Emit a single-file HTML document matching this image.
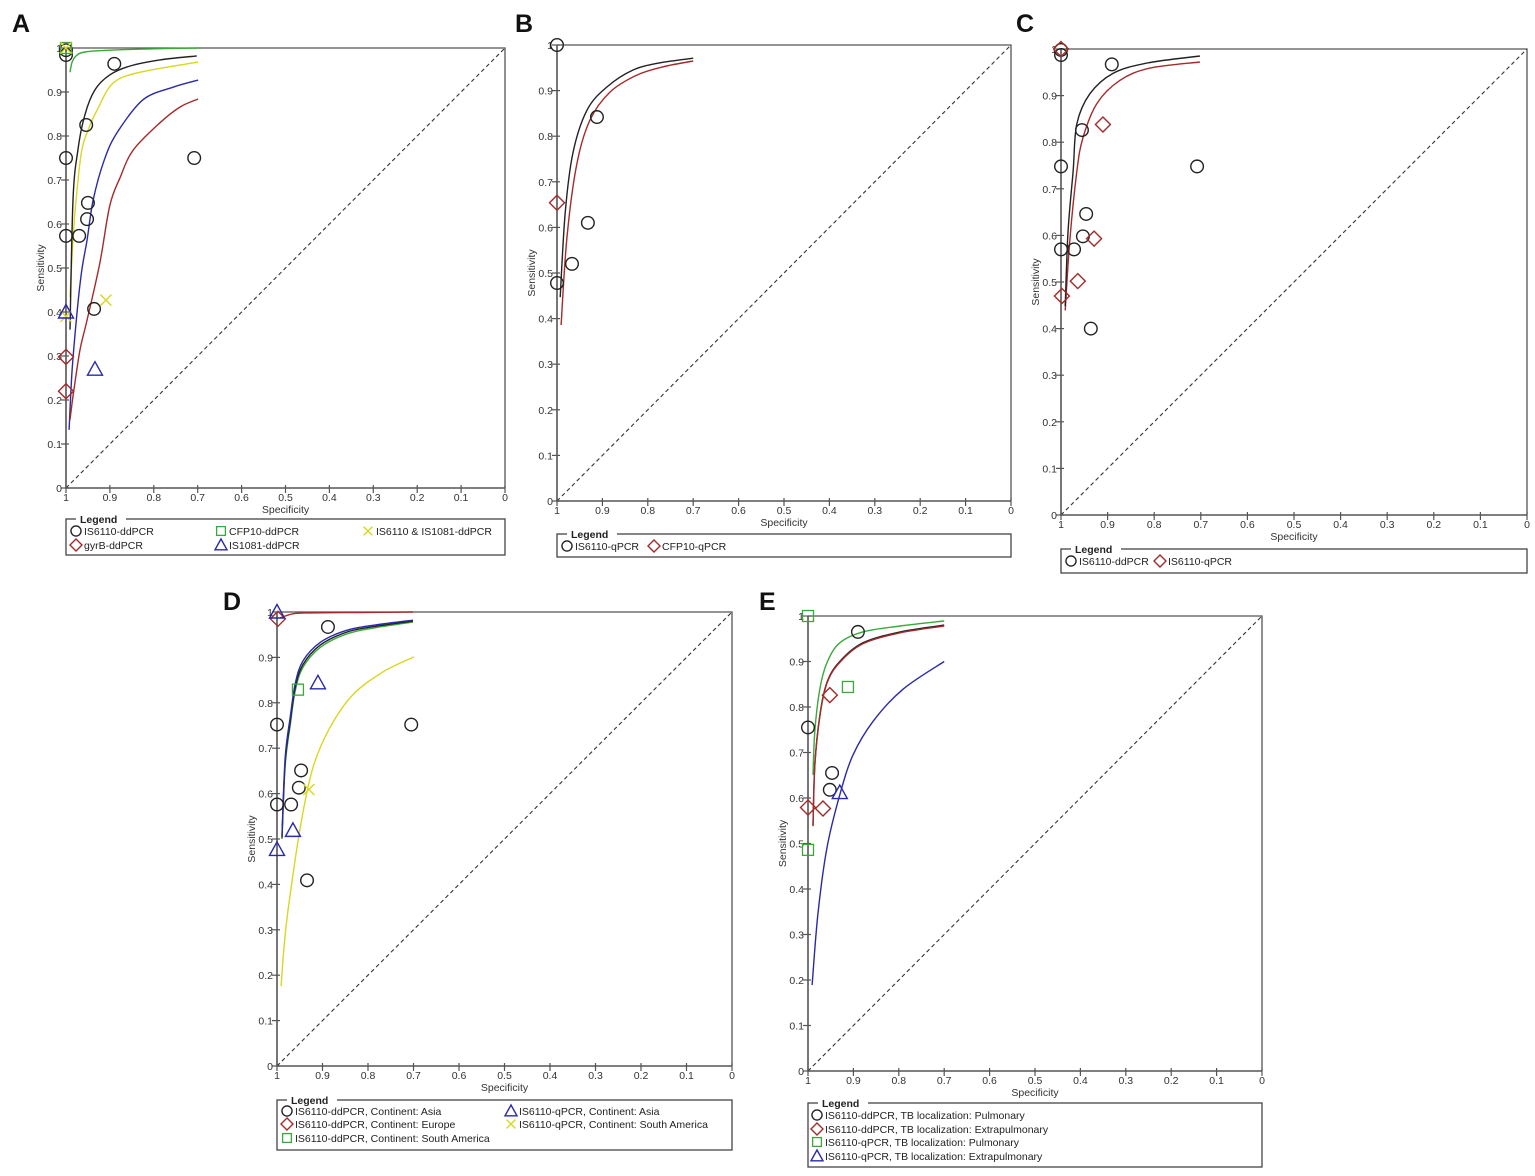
<!DOCTYPE html>
<html><head><meta charset="utf-8"><title>SROC curves</title>
<style>
html,body{margin:0;padding:0;background:#fff;}
svg{display:block;font-family:"Liberation Sans",Arial,sans-serif;}
</style></head>
<body>
<svg id="fig" width="1535" height="1176" viewBox="0 0 1535 1176" xmlns="http://www.w3.org/2000/svg"></svg>
<script>
// ---------- tick labels ----------
const tickValues = [0,0.1,0.2,0.3,0.4,0.5,0.6,0.7,0.8,0.9,1];
const tickLabels = ["0","0.1","0.2","0.3","0.4","0.5","0.6","0.7","0.8","0.9","1"];

// ---------- Panel A data ----------
const aIS6110Spec = [1,0.89,0.954,1,0.708,0.95,0.952,1,0.97,0.936,1];
const aIS6110Sens = [0.984,0.964,0.825,0.75,0.75,0.648,0.611,0.573,0.573,0.407,0.995];
const aGyrBSpec = [1,1];
const aGyrBSens = [0.298,0.22];
const aCFP10Spec = [1];
const aCFP10Sens = [1];
const aComboSpec = [1,1,0.909];
const aComboSens = [1,0.39,0.427];
const aIS1081Spec = [1,0.934];
const aIS1081Sens = [0.40,0.27];
const aCurveBlackSpec = [0.991,0.984,0.973,0.957,0.934,0.9,0.854,0.786,0.702];
const aCurveBlackSens = [0.36,0.655,0.768,0.848,0.905,0.939,0.959,0.973,0.982];
const aCurveYellowSpec = [0.991,0.984,0.977,0.964,0.945,0.929,0.893,0.831,0.699];
const aCurveYellowSens = [0.434,0.564,0.655,0.768,0.825,0.859,0.920,0.945,0.968];
const aCurveGreenSpec = [0.991,0.986,0.977,0.957,0.9,0.809,0.695];
const aCurveGreenSens = [0.945,0.968,0.982,0.991,0.995,0.998,1.0];
const aCurveBlueSpec = [0.993,0.986,0.975,0.964,0.952,0.938,0.913,0.884,0.825,0.756,0.699];
const aCurveBlueSens = [0.132,0.268,0.398,0.495,0.564,0.655,0.745,0.807,0.882,0.911,0.927];
const aCurveRedSpec = [0.991,0.982,0.968,0.952,0.923,0.9,0.877,0.847,0.786,0.740,0.699];
const aCurveRedSens = [0.155,0.223,0.314,0.382,0.511,0.643,0.705,0.768,0.830,0.866,0.884];

// ---------- Panel B data ----------
const bIS6110Spec = [1,0.912,0.932,0.967,1];
const bIS6110Sens = [1,0.842,0.610,0.520,0.478];
const bCFP10Spec = [1];
const bCFP10Sens = [0.654];
const bCurveBlackSpec = [0.993,0.982,0.965,0.934,0.890,0.833,0.773,0.700];
const bCurveBlackSens = [0.447,0.632,0.763,0.857,0.908,0.945,0.961,0.971];
const bCurveRedSpec = [0.991,0.978,0.956,0.927,0.883,0.824,0.767,0.700];
const bCurveRedSens = [0.386,0.579,0.741,0.836,0.897,0.934,0.952,0.965];

// ---------- Panel C data ----------
const cDdSpec = [1,1,0.891,0.955,1,0.708,0.946,0.953,1,0.972,0.936];
const cDdSens = [0.998,0.987,0.967,0.826,0.748,0.748,0.646,0.598,0.570,0.570,0.40];
const cQSpec = [1,0.910,0.929,0.964,0.998];
const cQSens = [1.0,0.838,0.593,0.502,0.470];
const cCurveBlackSpec = [0.991,0.985,0.974,0.966,0.938,0.888,0.815,0.702];
const cCurveBlackSens = [0.448,0.607,0.737,0.839,0.904,0.948,0.970,0.985];
const cCurveRedSpec = [0.991,0.981,0.966,0.953,0.923,0.873,0.809,0.702];
const cCurveRedSens = [0.439,0.591,0.737,0.809,0.883,0.933,0.959,0.972];

// ---------- Panel D data ----------
const dAsiaDdSpec = [0.888,1,0.705,0.947,0.952,1,0.969,0.934];
const dAsiaDdSens = [0.967,0.752,0.752,0.651,0.613,0.576,0.576,0.409];
const dEuropeSpec = [0.998];
const dEuropeSens = [0.985];
const dSouthAmDdSpec = [0.954];
const dSouthAmDdSens = [0.829];
const dAsiaQSpec = [1,0.910,0.965,1];
const dAsiaQSens = [1.0,0.844,0.519,0.477];
const dSouthAmQSpec = [0.930];
const dSouthAmQSens = [0.609];
const dCurveSpec = [0.989,0.982,0.971,0.960,0.943,0.905,0.846,0.780,0.701];
const dCurveBlackSens = [0.503,0.670,0.758,0.833,0.884,0.927,0.956,0.969,0.980];
const dCurveBlueSens = [0.51,0.68,0.768,0.842,0.892,0.933,0.960,0.972,0.982];
const dCurveGreenSens = [0.50,0.662,0.75,0.826,0.878,0.922,0.952,0.966,0.978];
const dCurveRedSpec = [0.993,0.965,0.927,0.818,0.701];
const dCurveRedSens = [0.987,0.996,0.998,0.999,1.0];
const dCurveYellowSpec = [0.991,0.985,0.976,0.949,0.921,0.884,0.833,0.767,0.699];
const dCurveYellowSens = [0.176,0.257,0.341,0.525,0.657,0.745,0.818,0.868,0.901];

// ---------- Panel E data ----------
const ePulmDdSpec = [0.890,1,0.947,0.952];
const ePulmDdSens = [0.965,0.755,0.655,0.618];
const eExtraDdSpec = [0.952,1,0.967];
const eExtraDdSens = [0.826,0.579,0.577];
const ePulmQSpec = [1,0.912,1];
const ePulmQSens = [1.0,0.844,0.486];
const eExtraQSpec = [0.930];
const eExtraQSens = [0.612];
const eCurveGreenSpec = [0.989,0.985,0.974,0.958,0.930,0.879,0.797,0.700];
const eCurveGreenSens = [0.651,0.746,0.839,0.898,0.941,0.965,0.978,0.989];
const eCurveDdSpec = [0.989,0.985,0.974,0.958,0.930,0.879,0.797,0.700];
const eCurveDdSens = [0.540,0.672,0.781,0.855,0.900,0.941,0.965,0.980];
const eCurveBlueSpec = [0.991,0.978,0.958,0.930,0.901,0.857,0.791,0.700];
const eCurveBlueSens = [0.189,0.347,0.492,0.607,0.694,0.768,0.839,0.900];

// ---------- helpers ----------
const NS = "http://www.w3.org/2000/svg";
const svg = document.getElementById("fig");
const BLACK="#222", RED="#a52a2a", GREEN="#3aa83a", YEL="#d8d820", BLUE="#2a2aa8", AXIS="#555";
function mk(tag, attrs, parent){
  const e=document.createElementNS(NS,tag);
  for(const k in attrs) e.setAttribute(k,attrs[k]);
  (parent||svg).appendChild(e); return e;
}
function makePanel(name,x0,y0,w,h){
  const g=mk("g",{});
  
  
  const P={g,x0,y0,w,h,
    sx:s=>x0+(1-s)*w, sy:v=>y0+(1-v)*h};
  const fr=mk("path",{d:`M${x0},${y0}H${x0+w}V${y0+h}`,fill:"none",stroke:AXIS,"stroke-width":1.3},g);
  
  
  const ax=mk("path",{d:`M${x0},${y0}V${y0+h}H${x0+w}`,fill:"none",stroke:AXIS,"stroke-width":1.6},g);
  
  
  const dg=mk("line",{x1:x0,y1:y0+h,x2:x0+w,y2:y0,stroke:"#333","stroke-width":1.1,"stroke-dasharray":"4,3"},g);
  
  
  tickValues.forEach((t,i)=>{
    const yy=P.sy(t), xx=P.sx(t);
    mk("line",{x1:x0-5,y1:yy,x2:x0+3,y2:yy,stroke:AXIS,"stroke-width":1.2},g);
    const yl=mk("text",{x:x0-4,y:yy+4,"font-size":10.5,"text-anchor":"end",fill:"#333"},g);
    yl.textContent=tickLabels[i];
    
    
    mk("line",{x1:xx,y1:y0+h-3,x2:xx,y2:y0+h+5,stroke:AXIS,"stroke-width":1.2},g);
    const xl=mk("text",{x:xx,y:y0+h+13,"font-size":10.5,"text-anchor":"middle",fill:"#333"},g);
    xl.textContent=tickLabels[i];
    
    
  });
  const xt=mk("text",{x:x0+w/2,y:y0+h+25,"font-size":10.5,"text-anchor":"middle",fill:"#333"},g);
  xt.textContent="Specificity";
  
  
  const yx=x0-22, yy=y0+h/2;
  const yt=mk("text",{x:yx,y:yy,"font-size":10.5,"text-anchor":"middle",fill:"#333",transform:`rotate(-90 ${yx} ${yy})`},g);
  yt.textContent="Sensitivity";
  
  
  return P;
}
function curve(P,spec,sens,color,name){
  const pts=spec.map((s,i)=>[P.sx(s),P.sy(sens[i])]);
  let d="M"+pts[0][0].toFixed(1)+","+pts[0][1].toFixed(1);
  for(let i=0;i<pts.length-1;i++){
    const p0=pts[Math.max(0,i-1)],p1=pts[i],p2=pts[i+1],p3=pts[Math.min(pts.length-1,i+2)];
    const c1=[p1[0]+(p2[0]-p0[0])/6,p1[1]+(p2[1]-p0[1])/6];
    const c2=[p2[0]-(p3[0]-p1[0])/6,p2[1]-(p3[1]-p1[1])/6];
    d+="C"+c1[0].toFixed(1)+","+c1[1].toFixed(1)+" "+c2[0].toFixed(1)+","+c2[1].toFixed(1)+" "+p2[0].toFixed(1)+","+p2[1].toFixed(1);
  }
  const p=mk("path",{d,fill:"none",stroke:color,"stroke-width":1.4},P.g);
  
  
}
function marker(g,type,cx,cy,color,sz){
  sz=sz||1; let e;
  if(type==="circle") e=mk("circle",{cx,cy,r:6.3*sz,fill:"none",stroke:color,"stroke-width":1.4},g);
  else if(type==="diamond"){const r=7.5*sz; e=mk("path",{d:`M${cx},${cy-r}L${cx+r},${cy}L${cx},${cy+r}L${cx-r},${cy}Z`,fill:"none",stroke:color,"stroke-width":1.4},g);}
  else if(type==="square"){const r=5.5*sz; e=mk("rect",{x:cx-r,y:cy-r,width:2*r,height:2*r,fill:"none",stroke:color,"stroke-width":1.3},g);}
  else if(type==="triangle"){const r=7.5*sz; e=mk("path",{d:`M${cx},${cy-r}L${cx+r},${cy+r*0.8}L${cx-r},${cy+r*0.8}Z`,fill:"none",stroke:color,"stroke-width":1.4},g);}
  else {const r=5.5*sz; e=mk("path",{d:`M${cx-r},${cy-r}L${cx+r},${cy+r}M${cx+r},${cy-r}L${cx-r},${cy+r}`,fill:"none",stroke:color,"stroke-width":1.4},g);}
  return e;
}
function points(P,spec,sens,type,color,name){
  spec.forEach((s,i)=>{
    const e=marker(P.g,type,P.sx(s),P.sy(sens[i]),color);
    
    
  });
}
function legend(x,y,w,h,entries){
  const g=mk("g",{});
  
  
  mk("rect",{x,y,width:w,height:h,fill:"none",stroke:"#444","stroke-width":1.3},g);
  mk("rect",{x:x+10,y:y-4,width:50,height:8,fill:"#fff"},g);
  const lt=mk("text",{x:x+14,y:y+4,"font-size":10.5,"font-weight":"bold",fill:"#222"},g);
  lt.textContent="Legend";
  
  
  entries.forEach(en=>{
    const eg=mk("g",{},g);
    
    
    marker(eg,en[2],en[0]+6,en[1]-4,en[3],0.8);
    const t=mk("text",{x:en[0]+14,y:en[1],"font-size":10.5,fill:"#222"},eg);
    t.textContent=en[4];
  });
}
function letter(x,y,s){
  const t=mk("text",{x,y,"font-size":25,"font-weight":"bold",fill:"#111"});
  t.textContent=s;
  
  
}

// ---------- Panel A ----------
letter(12,32,"A");
const A=makePanel("panel-a",66,48,439,440);
curve(A,aCurveBlueSpec,aCurveBlueSens,BLUE,"curve-is1081-ddpcr");
curve(A,aCurveRedSpec,aCurveRedSens,RED,"curve-gyrb-ddpcr");
curve(A,aCurveYellowSpec,aCurveYellowSens,YEL,"curve-combo-ddpcr");
curve(A,aCurveBlackSpec,aCurveBlackSens,BLACK,"curve-is6110-ddpcr");
curve(A,aCurveGreenSpec,aCurveGreenSens,GREEN,"curve-cfp10-ddpcr");
points(A,aIS6110Spec,aIS6110Sens,"circle",BLACK,"point-is6110-ddpcr");
points(A,aGyrBSpec,aGyrBSens,"diamond",RED,"point-gyrb-ddpcr");
points(A,aCFP10Spec,aCFP10Sens,"square",GREEN,"point-cfp10-ddpcr");
points(A,aComboSpec,aComboSens,"x",YEL,"point-combo-ddpcr");
points(A,aIS1081Spec,aIS1081Sens,"triangle",BLUE,"point-is1081-ddpcr");
legend(66,519,439,36,[[70,535,"circle",BLACK,"IS6110-ddPCR"],[215,535,"square",GREEN,"CFP10-ddPCR"],[362,535,"x",YEL,"IS6110 & IS1081-ddPCR"],[70,549,"diamond",RED,"gyrB-ddPCR"],[215,549,"triangle",BLUE,"IS1081-ddPCR"]]);

// ---------- Panel B ----------
letter(515,32,"B");
const B=makePanel("panel-b",557,45,454,456);
curve(B,bCurveRedSpec,bCurveRedSens,RED,"curve-cfp10-qpcr");
curve(B,bCurveBlackSpec,bCurveBlackSens,BLACK,"curve-is6110-qpcr");
points(B,bIS6110Spec,bIS6110Sens,"circle",BLACK,"point-is6110-qpcr");
points(B,bCFP10Spec,bCFP10Sens,"diamond",RED,"point-cfp10-qpcr");
legend(557,534,454,23,[[561,550,"circle",BLACK,"IS6110-qPCR"],[648,550,"diamond",RED,"CFP10-qPCR"]]);

// ---------- Panel C ----------
letter(1016,32,"C");
const C=makePanel("panel-c",1061,49,466,466);
curve(C,cCurveRedSpec,cCurveRedSens,RED,"curve-is6110-qpcr");
curve(C,cCurveBlackSpec,cCurveBlackSens,BLACK,"curve-is6110-ddpcr");
points(C,cDdSpec,cDdSens,"circle",BLACK,"point-is6110-ddpcr");
points(C,cQSpec,cQSens,"diamond",RED,"point-is6110-qpcr");
legend(1061,549,466,24,[[1065,565,"circle",BLACK,"IS6110-ddPCR"],[1154,565,"diamond",RED,"IS6110-qPCR"]]);

// ---------- Panel D ----------
letter(223,610,"D");
const D=makePanel("panel-d",277,612,455,454);
curve(D,dCurveYellowSpec,dCurveYellowSens,YEL,"curve-qpcr-south-america");
curve(D,dCurveSpec,dCurveGreenSens,GREEN,"curve-ddpcr-south-america");
curve(D,dCurveSpec,dCurveBlackSens,BLACK,"curve-ddpcr-asia");
curve(D,dCurveSpec,dCurveBlueSens,BLUE,"curve-qpcr-asia");
curve(D,dCurveRedSpec,dCurveRedSens,RED,"curve-ddpcr-europe");
points(D,dAsiaDdSpec,dAsiaDdSens,"circle",BLACK,"point-ddpcr-asia");
points(D,dEuropeSpec,dEuropeSens,"diamond",RED,"point-ddpcr-europe");
points(D,dSouthAmDdSpec,dSouthAmDdSens,"square",GREEN,"point-ddpcr-south-america");
points(D,dAsiaQSpec,dAsiaQSens,"triangle",BLUE,"point-qpcr-asia");
points(D,dSouthAmQSpec,dSouthAmQSens,"x",YEL,"point-qpcr-south-america");
legend(277,1100,455,50,[[281,1115,"circle",BLACK,"IS6110-ddPCR, Continent: Asia"],[505,1115,"triangle",BLUE,"IS6110-qPCR, Continent: Asia"],[281,1128,"diamond",RED,"IS6110-ddPCR, Continent: Europe"],[505,1128,"x",YEL,"IS6110-qPCR, Continent: South America"],[281,1142,"square",GREEN,"IS6110-ddPCR, Continent: South America"]]);

// ---------- Panel E ----------
letter(759,610,"E");
const E=makePanel("panel-e",808,616,454,455);
curve(E,eCurveBlueSpec,eCurveBlueSens,BLUE,"curve-qpcr-extrapulmonary");
curve(E,eCurveGreenSpec,eCurveGreenSens,GREEN,"curve-qpcr-pulmonary");
curve(E,eCurveDdSpec,eCurveDdSens,BLACK,"curve-ddpcr-pulmonary");
curve(E,eCurveDdSpec,eCurveDdSens.map(v=>v-0.002),RED,"curve-ddpcr-extrapulmonary");
points(E,ePulmDdSpec,ePulmDdSens,"circle",BLACK,"point-ddpcr-pulmonary");
points(E,eExtraDdSpec,eExtraDdSens,"diamond",RED,"point-ddpcr-extrapulmonary");
points(E,ePulmQSpec,ePulmQSens,"square",GREEN,"point-qpcr-pulmonary");
points(E,eExtraQSpec,eExtraQSens,"triangle",BLUE,"point-qpcr-extrapulmonary");
legend(808,1103,454,64,[[811,1119,"circle",BLACK,"IS6110-ddPCR, TB localization: Pulmonary"],[811,1133,"diamond",RED,"IS6110-ddPCR, TB localization: Extrapulmonary"],[811,1146,"square",GREEN,"IS6110-qPCR, TB localization: Pulmonary"],[811,1160,"triangle",BLUE,"IS6110-qPCR, TB localization: Extrapulmonary"]]);
</script>
</body></html>
